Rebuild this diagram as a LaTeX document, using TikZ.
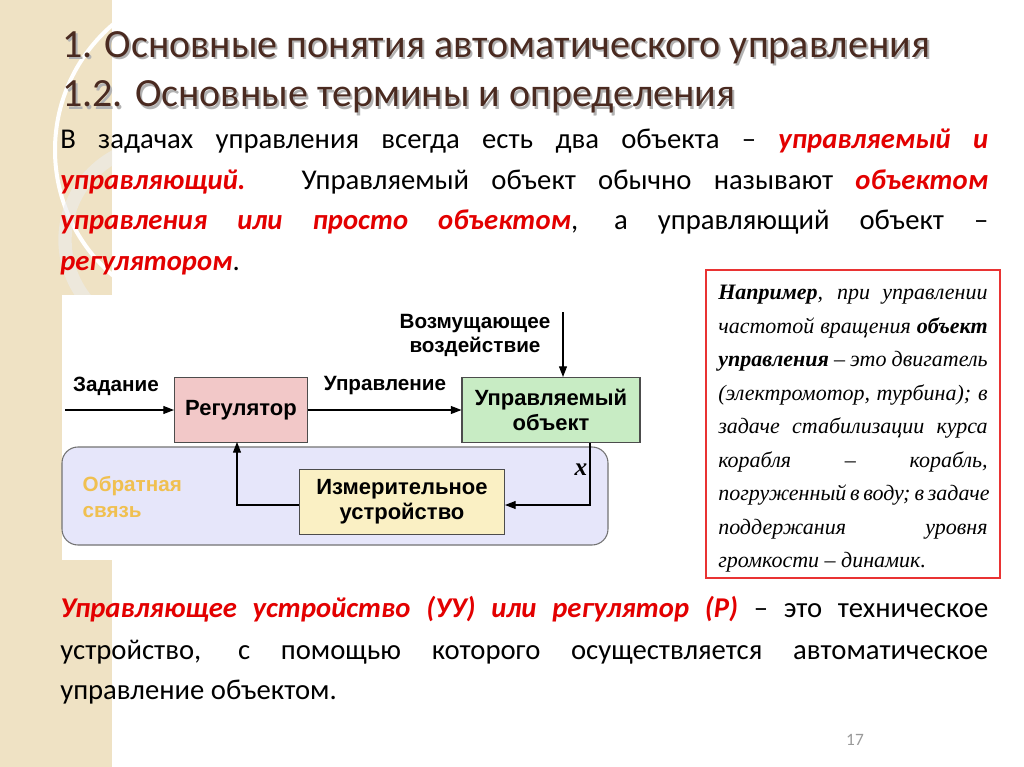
\documentclass[tikz,border=0pt]{standalone}
\usepackage{fontspec}
\setmainfont{Carlito}
\newfontfamily\arialf{Liberation Sans}
\newfontfamily\timesf{Liberation Serif}
\usetikzlibrary{arrows.meta}
\definecolor{beige}{HTML}{EFE2C4}
\definecolor{ttl}{HTML}{4A2A20}
\definecolor{myred}{HTML}{E30000}
\definecolor{regc}{HTML}{F2C8C8}
\definecolor{objc}{HTML}{C8ECC4}
\definecolor{izmc}{HTML}{FAF0C4}
\definecolor{lav}{HTML}{E6E6FA}
\definecolor{obr}{HTML}{F0C050}
\newcommand{\R}[1]{\textcolor{myred}{\bfseries\itshape #1}}
\newcommand{\LN}[1]{\makebox[696pt][s]{#1}}
\newcommand{\BL}[1]{\makebox[202pt][s]{#1}}
\begin{document}
\begin{tikzpicture}[x=0.75pt,y=-0.75pt,
  blk/.style={draw=black!70,thick,minimum width=#1,minimum height=48.75pt,font=\arialf\bfseries\fontsize{16.5}{19}\selectfont,align=center,inner sep=0pt},
  lbl/.style={font=\arialf\bfseries\fontsize{15.5}{18}\selectfont,align=center,inner sep=1pt},
  arr/.style={-{Triangle[length=8pt,width=6pt]},thick},
  body/.style={anchor=base west,inner sep=0pt,font=\fontsize{21.5}{24}\selectfont}]
\useasboundingbox (0,0) rectangle (1024,767);
\fill[white] (0,0) rectangle (1024,767);
\fill[beige] (0,0) rectangle (112,767);
\begin{scope}
\clip (0,0) rectangle (112,767);
\draw[white,line width=3pt] (220,150) circle (165);
\draw[white!85!gray,line width=10pt,opacity=0.6] (160,240) circle (95);
\end{scope}
\fill[white] (62,295) rectangle (610,560);
% titles
\node[anchor=base west,inner sep=0,text=black!30,font=\fontsize{30}{34}\selectfont] at (64,60) {1. Основные понятия автоматического управления};
\node[anchor=base west,inner sep=0,text=ttl,font=\fontsize{30}{34}\selectfont] (t1) at (62,58) {1. Основные понятия автоматического управления};
\node[anchor=base west,inner sep=0,text=black!30,font=\fontsize{30}{34}\selectfont] at (64,109) {1.2. Основные термины и определения};
\node[anchor=base west,inner sep=0,text=ttl,font=\fontsize{30}{34}\selectfont] (t2) at (62,107) {1.2. Основные термины и определения};
% body
\node[body] (b1) at (60,148) {\LN{В задачах управления всегда есть два объекта – \R{управляемый и}}};
\node[body] (b2) at (60,189) {\LN{\R{управляющий.} Управляемый объект обычно называют \R{объектом}}};
\node[body] (b3) at (60,229) {\LN{\R{управления или просто объектом}, а управляющий объект –}};
\node[body] (b4) at (60,270) {\R{регулятором}.};
\node[body] (c1) at (60,617) {\LN{\R{Управляющее устройство (УУ) или регулятор (Р)} – это техническое}};
\node[body] (c2) at (60,659) {\LN{устройство, с помощью которого осуществляется автоматическое}};
\node[body] (c3) at (60,699) {управление объектом.};
% red box
\draw[myred!80,line width=0.8pt] (706,270) rectangle (1000,578);
\begin{scope}[every node/.style={anchor=base west,inner sep=0,font=\timesf\itshape\fontsize{16.5}{18}\selectfont}]
\node (r1) at (718,299) {\BL{\textbf{Например}, при управлении}};
\node (r2) at (718,333) {\BL{частотой вращения \textbf{объект}}};
\node (r3) at (718,366) {\BL{\textbf{управления} – это двигатель}};
\node (r4) at (718,400) {\BL{(электромотор, турбина); в}};
\node (r5) at (718,433) {\BL{задаче стабилизации курса}};
\node (r6) at (718,467) {\BL{корабля – корабль,}};
\node (r7) at (718,500) {\BL{погруженный в воду; в задаче}};
\node (r8) at (718,534) {\BL{поддержания уровня}};
\node (r9) at (718,567) {громкости – динамик.};
\end{scope}
% diagram
\draw[draw=black!55,fill=lav,rounded corners=12pt,line width=0.8pt] (62,447) rectangle (608,545);
\node[blk=99.75pt,fill=regc] (reg) at (241,410) {Регулятор};
\node[blk=133.5pt,fill=objc] (obj) at (551,410) {Управляемый\\объект};
\node[blk=153.75pt,fill=izmc] (izm) at (402,502) {Измерительное\\устройство};
\coordinate (in) at (65,410);
\node[lbl] (zad) at (116,386) {Задание};
\node[lbl] (upr) at (385,386) {Управление};
\node[lbl] (voz) at (475,335) {Возмущающее\\воздействие};
\node[font=\arialf\bfseries\fontsize{15.5}{19}\selectfont,text=obr,align=left,anchor=west] (fb) at (78,497) {Обратная\\связь};
\node[font=\timesf\bfseries\itshape\fontsize{19}{20}\selectfont] (xl) at (581,470) {x};
\coordinate (vtop) at (563,312);
\draw[arr] (in) -- (reg.west);
\draw[arr] (reg.east) -- (obj.west);
\draw[arr] (vtop) -- (vtop |- obj.north);
\draw[arr] (obj.south -| 590,0) -- (590,505) -- (izm.east |- 0,505);
\draw[arr] (izm.west |- 0,505) -- (237,505) -- (237,442);
\node[text=black!40,font=\fontsize{13}{15}\selectfont] (pg) at (855,740) {17};
\end{tikzpicture}
\end{document}
